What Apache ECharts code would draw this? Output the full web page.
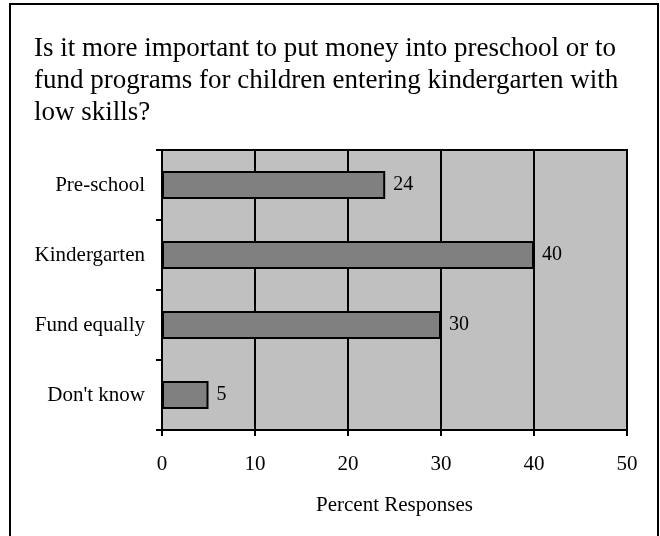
<!DOCTYPE html>
<html>
<head>
<meta charset="utf-8">
<script src="https://cdn.jsdelivr.net/npm/echarts@6/dist/echarts.min.js"></script>
<style>
html,body{margin:0;padding:0;background:#fff;}
#chart{width:660px;height:536px;}
</style>
</head>
<body>
<div id="chart"></div>
<script>
var titleText = "Is it more important to put money into preschool or to\nfund programs for children entering kindergarten with\nlow skills?";
var categories = ["Pre-school", "Kindergarten", "Fund equally", "Don't know"];
var values = [24, 40, 30, 5];
var xTicks = [0, 10, 20, 30, 40, 50];
var xAxisName = "Percent Responses";

var FONT = "Liberation Serif";
var chart = echarts.init(document.getElementById('chart'), null, {renderer: 'canvas'});
chart.setOption({
  backgroundColor: '#ffffff',
  animation: false,
  graphic: [{
    type: 'rect',
    shape: {x: 10, y: 4, width: 648, height: 560},
    style: {fill: 'none', stroke: '#000', lineWidth: 2},
    silent: true
  }, {
    type: 'text',
    x: 34, y: 33,
    silent: true,
    style: {
      text: titleText,
      fontFamily: FONT, fontSize: 27, fontWeight: 'normal',
      lineHeight: 32, fill: '#000',
      align: 'left', verticalAlign: 'top'
    }
  }],
  grid: {
    left: 162, right: 33, top: 150, bottom: 106,
    show: true, backgroundColor: '#C0C0C0', borderColor: '#000', borderWidth: 2,
    containLabel: false
  },
  xAxis: {
    type: 'value',
    min: xTicks[0], max: xTicks[xTicks.length - 1], interval: 10,
    name: xAxisName, nameLocation: 'middle', nameGap: 65,
    nameTextStyle: {fontFamily: FONT, fontSize: 21, color: '#000'},
    axisLine: {show: true, lineStyle: {color: '#000', width: 2}},
    axisTick: {show: true, length: 6, inside: false, lineStyle: {color: '#000', width: 2}},
    axisLabel: {fontFamily: FONT, fontSize: 21, color: '#000', margin: 24},
    splitLine: {show: true, lineStyle: {color: '#000', width: 2}}
  },
  yAxis: {
    type: 'category',
    data: categories,
    inverse: true,
    axisLine: {show: true, lineStyle: {color: '#000', width: 2}},
    axisTick: {show: true, length: 6, inside: false, lineStyle: {color: '#000', width: 2}},
    axisLabel: {fontFamily: FONT, fontSize: 21, color: '#000', margin: 17},
    splitLine: {show: false}
  },
  series: [{
    type: 'bar',
    data: values,
    barWidth: 28,
    itemStyle: {color: '#808080', borderColor: '#000', borderWidth: 2},
    label: {show: true, position: 'right', distance: 8, fontFamily: FONT, fontSize: 20, color: '#000'}
  }]
});
</script>
</body>
</html>
